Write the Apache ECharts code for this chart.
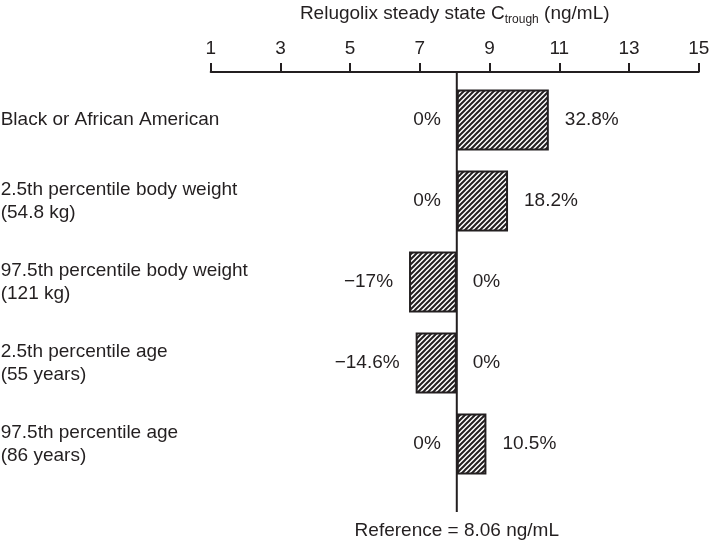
<!DOCTYPE html>
<html>
<head>
<meta charset="utf-8">
<script src="https://cdn.jsdelivr.net/npm/echarts@6/dist/echarts.min.js"></script>
<style>
html,body{margin:0;padding:0;background:#fff;}
#chart{width:709px;height:542px;}
</style>
</head>
<body>
<div id="chart"></div>
<script>
// ---- data ----
const categories = [
  'Black or African American',
  '2.5th percentile body weight\n(54.8 kg)',
  '97.5th percentile body weight\n(121 kg)',
  '2.5th percentile age\n(55 years)',
  '97.5th percentile age\n(86 years)'
];
const reference = 8.06;
const ctrough = [10.70, 9.53, 6.69, 6.88, 8.91];
const leftLabels = ['0%', '0%', '\u221217%', '\u221214.6%', '0%'];
const rightLabels = ['32.8%', '18.2%', '0%', '0%', '10.5%'];
const xMin = 1, xMax = 15, xStep = 2;
const axisTitle = 'Relugolix steady state C';
const axisTitleSub = 'trough';
const axisTitleEnd = ' (ng/mL)';
const referenceText = 'Reference = 8.06 ng/mL';

// ---- derived table ----
const baseVals = ctrough.map(v => Math.min(v, reference));
const deltaVals = ctrough.map(v => Math.abs(v - reference));

const INK = '#231f20';
const FONT = '"Liberation Sans", Arial, Helvetica, sans-serif';

function hatch() {
  const s = 5;
  const c = document.createElement('canvas');
  c.width = s; c.height = s;
  const g = c.getContext('2d');
  g.fillStyle = '#ffffff';
  g.fillRect(0, 0, s, s);
  g.strokeStyle = INK;
  g.lineWidth = 2;
  g.beginPath();
  g.moveTo(0, s); g.lineTo(s, 0);
  g.moveTo(-1, 1); g.lineTo(1, -1);
  g.moveTo(s - 1, s + 1); g.lineTo(s + 1, s - 1);
  g.stroke();
  return c;
}

const chart = echarts.init(document.getElementById('chart'), null, {renderer: 'canvas'});
const option = {
  animation: false,
  backgroundColor: '#ffffff',
  textStyle: {fontFamily: FONT, color: INK},
  grid: [
    {left: 210.7, right: 10.3, top: 79.5, bottom: 57.5, containLabel: false, outerBoundsMode: 'none'},
    {left: 210.7, right: 10.3, top: 72, bottom: 30, containLabel: false, outerBoundsMode: 'none'}
  ],
  xAxis: [
    {gridIndex: 0, type: 'value', min: xMin, max: xMax, interval: xStep, show: false},
    {
      gridIndex: 1, type: 'value', min: xMin, max: xMax, interval: xStep,
      position: 'top',
      name: '{a|' + axisTitle + '}{b|' + axisTitleSub + '}{a|' + axisTitleEnd + '}',
      nameLocation: 'middle',
      nameGap: 49,
      nameTextStyle: {
        rich: {
          a: {fontSize: 19, color: INK, fontFamily: FONT},
          b: {fontSize: 12, color: INK, fontFamily: FONT, verticalAlign: 'bottom', padding: [0, 0, -3, 0]}
        }
      },
      axisLine: {show: true, onZero: false, lineStyle: {color: INK, width: 2}},
      axisTick: {show: true, inside: false, length: 9, lineStyle: {color: INK, width: 2}},
      axisLabel: {show: true, fontSize: 19, color: INK, fontFamily: FONT, margin: 14},
      splitLine: {show: false}
    }
  ],
  yAxis: [
    {
      gridIndex: 0, type: 'category', data: categories, inverse: true,
      axisLine: {show: false}, axisTick: {show: false}, splitLine: {show: false},
      axisLabel: {
        show: true, align: 'left', margin: 210, fontSize: 19, lineHeight: 23,
        color: INK, fontFamily: FONT
      }
    },
    {gridIndex: 1, type: 'value', min: 0, max: 1, show: false}
  ],
  series: [
    {
      type: 'bar', xAxisIndex: 0, yAxisIndex: 0, stack: 'b',
      data: baseVals, barWidth: 61,
      itemStyle: {color: 'rgba(0,0,0,0)'},
      label: {
        show: true, position: 'insideRight', distance: 16,
        formatter: p => leftLabels[p.dataIndex],
        fontSize: 19, color: INK, fontFamily: FONT
      },
      silent: true
    },
    {
      type: 'bar', xAxisIndex: 0, yAxisIndex: 0, stack: 'b',
      data: deltaVals, barWidth: 61,
      itemStyle: {color: {image: hatch(), repeat: 'repeat'}, borderColor: INK, borderWidth: 2},
      label: {
        show: true, position: 'right', distance: 16,
        formatter: p => rightLabels[p.dataIndex],
        fontSize: 19, color: INK, fontFamily: FONT
      }
    },
    {
      type: 'line', xAxisIndex: 1, yAxisIndex: 1,
      data: [
        [reference, 1],
        {value: [reference, 0], label: {show: true, position: 'bottom', distance: 9,
          formatter: referenceText, fontSize: 19, color: INK, fontFamily: FONT}}
      ],
      symbol: 'circle', symbolSize: 0, showSymbol: true,
      lineStyle: {color: INK, width: 2},
      itemStyle: {color: INK},
      z: 5
    }
  ]
};
chart.setOption(option);
</script>
</body>
</html>
